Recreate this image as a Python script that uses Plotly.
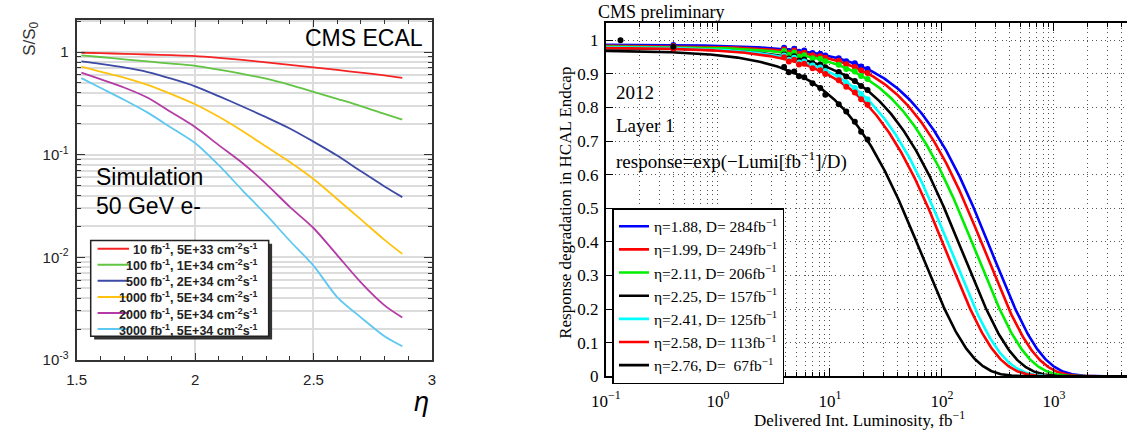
import numpy as np
import plotly.graph_objects as go

W, H = 1131, 440

# ---------------- Left panel data (CMS ECAL simulation) ----------------
ETA = [1.52, 1.6, 1.7, 1.8, 1.9, 2.0, 2.1, 2.2, 2.3, 2.4, 2.5, 2.6, 2.7, 2.8, 2.875]
S_10FB = [0.985, 0.975, 0.962, 0.947, 0.932, 0.915, 0.88, 0.84, 0.795, 0.752, 0.71, 0.67, 0.63, 0.592, 0.56]
S_100FB = [0.93, 0.895, 0.85, 0.81, 0.772, 0.735, 0.675, 0.612, 0.55, 0.48, 0.41, 0.35, 0.298, 0.25, 0.22]
S_500FB = [0.81, 0.767, 0.708, 0.638, 0.55, 0.464, 0.372, 0.295, 0.232, 0.18, 0.134, 0.098, 0.069, 0.049, 0.0386]
S_1000FB = [0.72, 0.646, 0.565, 0.479, 0.389, 0.31, 0.234, 0.17, 0.12, 0.085, 0.058, 0.037, 0.0234, 0.0148, 0.0108]
S_2000FB = [0.63, 0.545, 0.452, 0.359, 0.259, 0.186, 0.124, 0.083, 0.052, 0.031, 0.0193, 0.0105, 0.0057, 0.0034, 0.00259]
S_3000FB = [0.557, 0.449, 0.343, 0.257, 0.183, 0.13, 0.079, 0.045, 0.026, 0.0145, 0.0083, 0.0041, 0.0026, 0.0017, 0.00136]
LEFT_SERIES = [S_10FB, S_100FB, S_500FB, S_1000FB, S_2000FB, S_3000FB]
LEFT_LABELS = [
    "10 fb<sup>-1</sup>, 5E+33 cm<sup>-2</sup>s<sup>-1</sup>",
    "100 fb<sup>-1</sup>, 1E+34 cm<sup>-2</sup>s<sup>-1</sup>",
    "500 fb<sup>-1</sup>, 2E+34 cm<sup>-2</sup>s<sup>-1</sup>",
    "1000 fb<sup>-1</sup>, 5E+34 cm<sup>-2</sup>s<sup>-1</sup>",
    "2000 fb<sup>-1</sup>, 5E+34 cm<sup>-2</sup>s<sup>-1</sup>",
    "3000 fb<sup>-1</sup>, 5E+34 cm<sup>-2</sup>s<sup>-1</sup>",
]
LEFT_COLORS = ["#f52323", "#62c443", "#3c4aa6", "#ffc20e", "#b43ba6", "#5ec8f0"]
LEFT_XTICKS = [1.5, 2, 2.5, 3]
LEFT_XTICKTEXT = ["1.5", "2", "2.5", "3"]
LEFT_YTICKS = [0.001, 0.01, 0.1, 1]
LEFT_YTICKTEXT = ["10<sup>-3</sup>", "10<sup>-2</sup>", "10<sup>-1</sup>", "1"]

# ---------------- Right panel data (HCAL Endcap, layer 1) ----------------
ETA_R = ["1.88", "1.99", "2.11", "2.25", "2.41", "2.58", "2.76"]
D_VALUES = [284, 249, 206, 157, 125, 113, 67]
AMPL = [0.987, 0.984, 0.982, 0.977, 0.980, 0.978, 0.970]
RIGHT_COLORS = ["#0000ff", "#ff0000", "#00ee00", "#000000", "#00ffff", "#ff0000", "#000000"]
LUMI_PTS = [0.4, 3.9, 4.3, 4.8, 5.3, 5.9, 7.0, 8.2, 9.1, 12.0, 14.0, 16.7, 19.0, 21.7]
PTS_188 = [0.986, 0.978, 0.968, 0.975, 0.966, 0.970, 0.962, 0.960, 0.955, 0.947, 0.938, 0.932, 0.922, 0.915]
PTS_199 = [0.983, 0.973, 0.963, 0.970, 0.960, 0.963, 0.956, 0.953, 0.948, 0.939, 0.929, 0.921, 0.911, 0.903]
PTS_211 = [0.981, 0.968, 0.957, 0.964, 0.952, 0.956, 0.947, 0.945, 0.938, 0.927, 0.915, 0.907, 0.894, 0.885]
PTS_225 = [0.976, 0.958, 0.946, 0.953, 0.940, 0.943, 0.932, 0.928, 0.920, 0.906, 0.892, 0.879, 0.864, 0.852]
PTS_241 = [0.978, 0.955, 0.942, 0.948, 0.934, 0.937, 0.925, 0.919, 0.909, 0.891, 0.874, 0.858, 0.840, 0.825]
PTS_258 = [0.976, 0.950, 0.937, 0.942, 0.928, 0.930, 0.917, 0.911, 0.900, 0.881, 0.862, 0.845, 0.825, 0.808]
LUMI_PTS_276 = [0.135, 0.4, 3.9, 4.3, 4.8, 5.3, 5.9, 7.0, 8.2, 9.1, 12.0, 14.0, 16.7, 19.0, 21.7]
PTS_276 = [1.0, 0.981, 0.921, 0.905, 0.907, 0.893, 0.890, 0.872, 0.858, 0.838, 0.810, 0.788, 0.758, 0.728, 0.705]
RIGHT_LUMI = [LUMI_PTS] * 6 + [LUMI_PTS_276]
RIGHT_PTS = [PTS_188, PTS_199, PTS_211, PTS_225, PTS_241, PTS_258, PTS_276]
RIGHT_XTICKS = [0.1, 1, 10, 100, 1000]
RIGHT_XTICKTEXT = ["10<sup>\u22121</sup>", "10<sup>0</sup>", "10<sup>1</sup>", "10<sup>2</sup>", "10<sup>3</sup>"]
RIGHT_YTICKS = [0, 0.1, 0.2, 0.3, 0.4, 0.5, 0.6, 0.7, 0.8, 0.9, 1.0]
RIGHT_YTICKTEXT = ["0", "0.1", "0.2", "0.3", "0.4", "0.5", "0.6", "0.7", "0.8", "0.9", "1"]

SANS = "Liberation Sans, Arial, sans-serif"
SERIF = "Liberation Serif, Times New Roman, serif"


def px(x):
    return x / W


def py(y):
    return 1 - y / H


fig = go.Figure()

# Left panel curves
for vals, col in zip(LEFT_SERIES, LEFT_COLORS):
    fig.add_trace(go.Scatter(x=ETA, y=vals, mode="lines",
                             line=dict(color=col, width=1.8, shape="spline", smoothing=0.8),
                             xaxis="x", yaxis="y", showlegend=False, hoverinfo="skip"))

# Right panel fits and data
lumi_curve = np.logspace(-1, 3.66, 500)
for i, (eta, D, A, col) in enumerate(zip(ETA_R, D_VALUES, AMPL, RIGHT_COLORS)):
    gap = "\u00a0\u00a0" if D < 100 else "\u00a0"
    fig.add_trace(go.Scatter(x=lumi_curve, y=A * np.exp(-lumi_curve / D), mode="lines",
                             line=dict(color=col, width=2.6),
                             name=f"\u03b7={eta}, D={gap}{D}fb<sup>\u22121</sup>",
                             xaxis="x2", yaxis="y2", legend="legend2", hoverinfo="skip"))
for lum, pts, col in zip(RIGHT_LUMI, RIGHT_PTS, RIGHT_COLORS):
    fig.add_trace(go.Scatter(x=lum, y=pts, mode="markers", marker=dict(color=col, size=6),
                             xaxis="x2", yaxis="y2", showlegend=False, hoverinfo="skip"))

left_minor_y = [k * 10.0 ** e for e in range(-3, 1) for k in range(2, 10) if k * 10.0 ** e < 2.07]
left_minor_x = [round(1.5 + 0.1 * i, 2) for i in range(1, 15) if round(1.5 + 0.1 * i, 2) not in (2.0, 2.5)]
right_minor_x = [k * 10.0 ** e for e in range(-1, 4) for k in range(2, 10) if k * 10.0 ** e < 4480]

grid_dash = "1px,3.5px"
fig.update_layout(
    width=W, height=H, margin=dict(l=0, r=0, t=0, b=0),
    paper_bgcolor="white", plot_bgcolor="white",
    xaxis=dict(domain=[px(62.7), px(424)], range=[1.5, 3], anchor="y",
               tickmode="array", tickvals=LEFT_XTICKS, ticktext=LEFT_XTICKTEXT,
               ticks="inside", ticklen=7, tickcolor="#333", tickwidth=1.2,
               showgrid=True, gridcolor="#dcdcdc", gridwidth=1.5,
               showline=True, linecolor="#333", linewidth=2, mirror="ticks", zeroline=False,
               tickfont=dict(family=SANS, size=15, color="#222"), ticklabelstandoff=5,
               minor=dict(tickmode="array", tickvals=left_minor_x, ticks="inside", ticklen=4,
                          tickcolor="#333", showgrid=False)),
    yaxis=dict(domain=[py(368.3), py(20)], type="log", range=[-3, 0.317], anchor="x",
               tickmode="array", tickvals=LEFT_YTICKS, ticktext=LEFT_YTICKTEXT,
               ticks="inside", ticklen=8, tickcolor="#333", tickwidth=1.2,
               showgrid=True, gridcolor="#dcdcdc", gridwidth=1.5,
               showline=True, linecolor="#333", linewidth=2, mirror="ticks",
               tickfont=dict(family=SANS, size=15, color="#222"), ticklabelstandoff=3,
               minor=dict(tickmode="array", tickvals=left_minor_y, ticks="inside", ticklen=4,
                          tickcolor="#333", showgrid=True, gridcolor="#dcdcdc", gridwidth=1.5)),
    xaxis2=dict(domain=[px(601), 1.0], type="log", range=[-1, 3.653], anchor="y2",
                tickmode="array", tickvals=RIGHT_XTICKS, ticktext=RIGHT_XTICKTEXT,
                ticks="inside", ticklen=8, tickcolor="black",
                showgrid=True, gridcolor="#555", gridwidth=1, griddash=grid_dash,
                showline=True, linecolor="black", linewidth=1.8, mirror="ticks",
                tickfont=dict(family=SERIF, size=17, color="black"), ticklabelstandoff=8,
                minor=dict(tickmode="array", tickvals=right_minor_x, ticks="inside", ticklen=4,
                           tickcolor="black", showgrid=True, gridcolor="#555", gridwidth=1,
                           griddash=grid_dash)),
    yaxis2=dict(domain=[py(385), py(24)], range=[0, 1.0503], anchor="x2",
                tickmode="array", tickvals=RIGHT_YTICKS, ticktext=RIGHT_YTICKTEXT,
                ticks="inside", ticklen=7, tickcolor="black",
                showgrid=True, gridcolor="#555", gridwidth=1, griddash=grid_dash,
                showline=True, linecolor="black", linewidth=1.8, mirror=False, zeroline=False,
                tickfont=dict(family=SERIF, size=17, color="black"), ticklabelstandoff=2),
    legend2=dict(x=px(607.7), y=py(213), xanchor="left", yanchor="top",
                 bgcolor="white", bordercolor="black", borderwidth=1.5,
                 font=dict(family=SERIF, size=15.5, color="black"),
                 itemwidth=30, tracegroupgap=0),
    showlegend=True,
)

shapes = []
# left legend: shadow + box
shapes.append(dict(type="rect", xref="paper", yref="paper", x0=px(80.5), x1=px(261.5),
                   y0=py(347.5), y1=py(249.5), fillcolor="#333", line=dict(width=0), layer="above"))
shapes.append(dict(type="rect", xref="paper", yref="paper", x0=px(77), x1=px(258),
                   y0=py(344), y1=py(246), fillcolor="white", line=dict(color="#222", width=1.5),
                   layer="above"))
annotations = []
for i, (lab, col) in enumerate(zip(LEFT_LABELS, LEFT_COLORS)):
    yc = 254.5 + 16.45 * i
    shapes.append(dict(type="line", xref="paper", yref="paper", x0=px(84), x1=px(116),
                       y0=py(yc), y1=py(yc), line=dict(color=col, width=2), layer="above"))
    annotations.append(dict(text=f"<b>{lab}</b>", xref="paper", yref="paper", x=px(249), y=py(yc + 0.5),
                            xanchor="right", yanchor="middle", showarrow=False,
                            font=dict(family=SANS, size=12.5, color="#222")))

# Left panel texts
annotations += [
    dict(text="CMS ECAL", x=px(417), y=py(38.5), xanchor="right", yanchor="middle",
         font=dict(family=SANS, size=23, color="black")),
    dict(text="Simulation", x=px(80), y=py(181), xanchor="left", yanchor="middle",
         font=dict(family=SANS, size=23, color="black")),
    dict(text="50 GeV e-", x=px(80), y=py(211), xanchor="left", yanchor="middle",
         font=dict(family=SANS, size=23, color="black")),
    dict(text="S/S<sub>0</sub>", x=px(16), y=py(40), xanchor="center", yanchor="middle", textangle=-90,
         font=dict(family=SANS, size=17, color="#333")),
    dict(text="<i>\u03b7</i>", x=px(413), y=py(411), xanchor="center", yanchor="middle",
         font=dict(family=SANS, size=27, color="black")),
]
# Right panel texts
annotations += [
    dict(text="CMS preliminary", x=px(591), y=py(12), xanchor="left", yanchor="middle",
         font=dict(family=SERIF, size=18, color="black")),
    dict(text="2012", x=px(609), y=py(95), xanchor="left", yanchor="middle",
         font=dict(family=SERIF, size=19, color="black")),
    dict(text="Layer 1", x=px(609), y=py(128.5), xanchor="left", yanchor="middle",
         font=dict(family=SERIF, size=19, color="black")),
    dict(text="response=exp(\u2212Lumi[fb<sup>\u22121</sup>]/D)", x=px(609), y=py(164), xanchor="left",
         yanchor="middle", font=dict(family=SERIF, size=19, color="black")),
    dict(text="Response degradation in HCAL Endcap", x=px(560), y=py(208), xanchor="center",
         yanchor="middle", textangle=-90, font=dict(family=SERIF, size=17, color="black")),
    dict(text="Delivered Int. Luminosity, fb<sup>\u22121</sup>", x=px(859), y=py(429), xanchor="center",
         yanchor="middle", font=dict(family=SERIF, size=17, color="black")),
]
for a in annotations:
    a.setdefault("xref", "paper")
    a.setdefault("yref", "paper")
    a.setdefault("showarrow", False)

fig.update_layout(shapes=shapes, annotations=annotations)
fig.write_html("out.html")
